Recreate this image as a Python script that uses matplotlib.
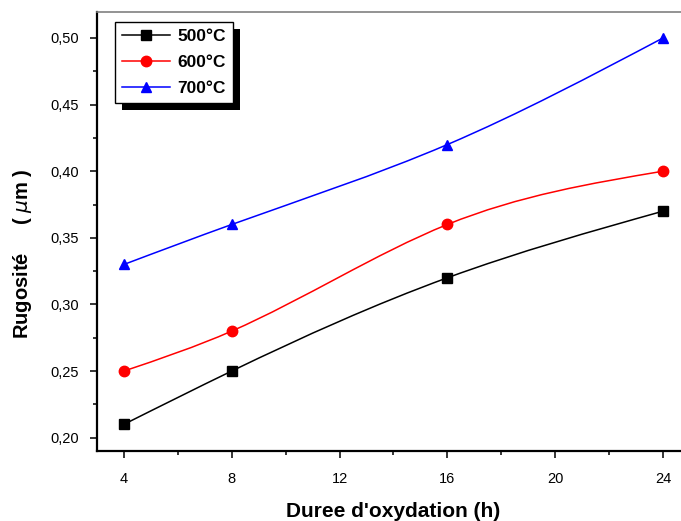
import numpy as np
import matplotlib
matplotlib.use('Agg')
import matplotlib.pyplot as plt
from matplotlib.path import Path
from matplotlib.patches import PathPatch, Rectangle

plt.rcParams['font.family'] = ['Liberation Sans', 'DejaVu Sans']

# oxidation time (h) and roughness (um) for each temperature
hours = [4, 8, 16, 24]
rug_500 = [0.21, 0.25, 0.32, 0.37]
rug_600 = [0.25, 0.28, 0.36, 0.40]
rug_700 = [0.33, 0.36, 0.42, 0.50]
labels = ['500°C', '600°C', '700°C']
colors = ['black', 'red', 'blue']
markers = ['s', 'o', '^']


def spline_path(x, y):
    # natural cubic spline through the points, written as bezier segments
    x = np.asarray(x, float)
    y = np.asarray(y, float)
    n = len(x)
    h = np.diff(x)
    d = np.diff(y) / h
    A = np.zeros((n, n))
    b = np.zeros(n)
    A[0, 0] = A[-1, -1] = 1
    for i in range(1, n - 1):
        A[i, i - 1] = h[i - 1]
        A[i, i] = 2 * (h[i - 1] + h[i])
        A[i, i + 1] = h[i]
        b[i] = 6 * (d[i] - d[i - 1])
    M = np.linalg.solve(A, b)
    m = np.zeros(n)
    for i in range(n - 1):
        m[i] = d[i] - h[i] * (2 * M[i] + M[i + 1]) / 6
    m[-1] = d[-1] + h[-1] * (M[-2] + 2 * M[-1]) / 6
    verts = [(x[0], y[0])]
    codes = [Path.MOVETO]
    for i in range(n - 1):
        verts += [(x[i] + h[i] / 3, y[i] + m[i] * h[i] / 3),
                  (x[i + 1] - h[i] / 3, y[i + 1] - m[i + 1] * h[i] / 3),
                  (x[i + 1], y[i + 1])]
        codes += [Path.CURVE4] * 3
    return Path(verts, codes)


fig = plt.figure(figsize=(6.81, 5.21), dpi=100)
ax = fig.add_axes([0.1424, 0.1344, 0.8708, 0.8426])

for ys, lab, c, mk in zip([rug_500, rug_600, rug_700], labels, colors, markers):
    ax.add_patch(PathPatch(spline_path(hours, ys), facecolor='none',
                           edgecolor=c, lw=1.1, zorder=2))
    ax.plot(hours, ys, linestyle='none', marker=mk, color=c, markersize=7.5,
            zorder=3)
    # proxy for the legend (line + marker)
    ax.plot([], [], '-', marker=mk, color=c, markersize=7.5, lw=1.1, label=lab)

ax.set_xlim(3, 25)
ax.set_ylim(0.19, 0.5195)
ax.set_xticks([4, 8, 12, 16, 20, 24])
ax.set_xticks([6, 10, 14, 18, 22], minor=True)
ax.set_yticks([0.20, 0.25, 0.30, 0.35, 0.40, 0.45, 0.50])
ax.set_yticks(np.arange(0.225, 0.50, 0.05), minor=True)
ax.set_yticklabels(['0,20', '0,25', '0,30', '0,35', '0,40', '0,45', '0,50'])
ax.tick_params(which='both', direction='out', labelsize=10.5, width=1.1)
ax.tick_params(which='major', length=5)
ax.tick_params(axis='x', which='major', pad=10)
ax.tick_params(axis='y', which='major', pad=8)
ax.tick_params(which='minor', length=3)

for s in ['left', 'bottom']:
    ax.spines[s].set_linewidth(1.6)
ax.spines['top'].set_color('#808080')
ax.spines['top'].set_linewidth(1.2)

ax.set_xlabel("Duree d'oxydation (h)", fontsize=15, fontweight='bold',
              labelpad=12)
ax.set_ylabel(r'Rugosité     ( $\mu$m )', fontsize=14.5, fontweight='bold')
ax.yaxis.set_label_coords(-0.107, 0.45)

leg = ax.legend(loc='upper left', bbox_to_anchor=(0.030, 0.977),
                borderaxespad=0, fancybox=False, framealpha=1,
                edgecolor='black', handlelength=2.8, handletextpad=0.42,
                labelspacing=0.62, borderpad=0.4,
                prop={'weight': 'bold', 'size': 12.5})
leg.get_frame().set_linewidth(1.0)
leg.set_zorder(6)

fig.canvas.draw()
bb = leg.get_window_extent()
ax.add_patch(Rectangle((bb.x0 + 7, bb.y0 - 7), bb.width, bb.height,
                       transform=None, facecolor='black', edgecolor='none',
                       clip_on=False, zorder=5.5))

plt.savefig('out.png', dpi=100)
